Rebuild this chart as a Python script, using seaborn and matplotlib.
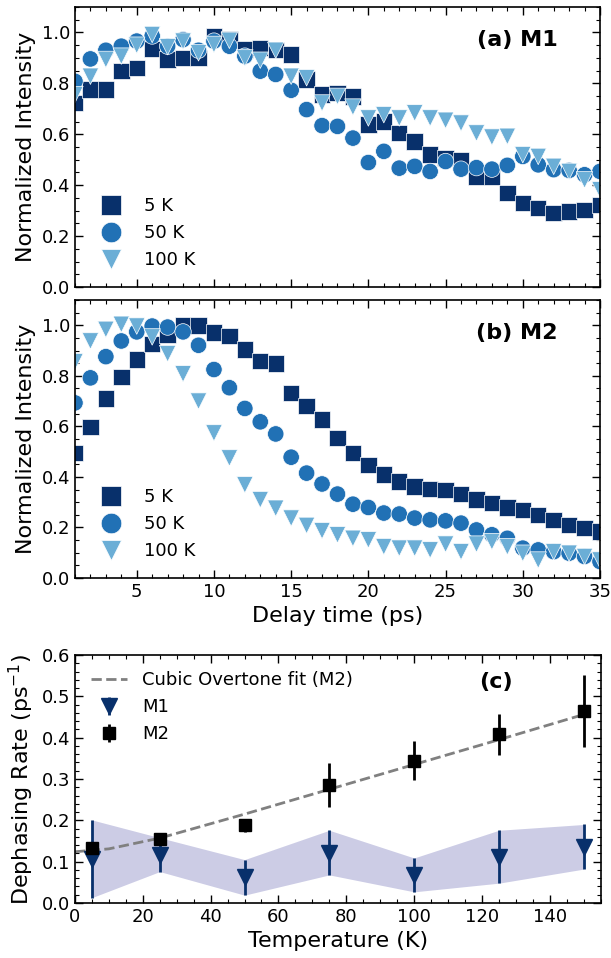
import numpy as np
import pandas as pd
import matplotlib
matplotlib.use("Agg")
import matplotlib.pyplot as plt
from matplotlib.ticker import MultipleLocator
import seaborn as sns

# delay times (ps)
delay = list(range(1, 36))

# (a) M1 normalized intensity
m1_5k = [0.723, 0.776, 0.776, 0.848, 0.861, 0.936, 0.894, 0.900, 0.900, 0.986,
         0.972, 0.933, 0.940, 0.930, 0.913, 0.815, 0.756, 0.762, 0.749, 0.638,
         0.651, 0.605, 0.572, 0.520, 0.507, 0.500, 0.434, 0.434, 0.369, 0.330,
         0.310, 0.290, 0.296, 0.303, 0.323]
m1_50k = [0.808, 0.896, 0.930, 0.946, 0.966, 0.986, 0.946, 0.972, 0.930, 0.966,
          0.946, 0.907, 0.848, 0.835, 0.773, 0.697, 0.634, 0.631, 0.585, 0.489,
          0.533, 0.467, 0.474, 0.454, 0.493, 0.463, 0.469, 0.463, 0.478, 0.513,
          0.480, 0.461, 0.458, 0.441, 0.454]
m1_100k = [0.756, 0.828, 0.894, 0.907, 0.950, 0.992, 0.944, 0.966, 0.920, 0.953,
           0.969, 0.900, 0.891, 0.930, 0.828, 0.822, 0.723, 0.749, 0.707, 0.664,
           0.677, 0.664, 0.684, 0.664, 0.655, 0.644, 0.605, 0.589, 0.592, 0.520,
           0.513, 0.474, 0.454, 0.421, 0.382]

# (b) M2 normalized intensity
m2_5k = [0.495, 0.597, 0.710, 0.795, 0.865, 0.927, 0.962, 1.000, 1.000, 0.971,
         0.958, 0.905, 0.858, 0.849, 0.733, 0.680, 0.627, 0.554, 0.495, 0.448,
         0.409, 0.382, 0.362, 0.353, 0.349, 0.332, 0.310, 0.296, 0.279, 0.270,
         0.250, 0.230, 0.210, 0.197, 0.184]
m2_50k = [0.693, 0.792, 0.876, 0.938, 0.974, 0.997, 0.993, 0.974, 0.921, 0.825,
          0.753, 0.671, 0.618, 0.570, 0.478, 0.415, 0.372, 0.332, 0.292, 0.279,
          0.257, 0.253, 0.237, 0.230, 0.226, 0.217, 0.190, 0.171, 0.157, 0.118,
          0.111, 0.104, 0.098, 0.085, 0.065]
m2_100k = [0.856, 0.938, 0.984, 1.004, 0.997, 0.954, 0.888, 0.808, 0.700, 0.574,
           0.475, 0.369, 0.310, 0.276, 0.237, 0.208, 0.187, 0.171, 0.157, 0.151,
           0.124, 0.118, 0.118, 0.111, 0.134, 0.104, 0.134, 0.144, 0.124, 0.098,
           0.071, 0.104, 0.098, 0.085, 0.071]

temp_labels = ["5 K", "50 K", "100 K"]

# (c) dephasing rates
temperature = [5, 25, 50, 75, 100, 125, 150]
rate_m1 = [0.107, 0.117, 0.062, 0.122, 0.068, 0.112, 0.136]
err_m1 = [0.094, 0.041, 0.043, 0.054, 0.041, 0.064, 0.054]
rate_m2 = [0.134, 0.154, 0.188, 0.285, 0.344, 0.408, 0.465]
err_m2 = [0.008, 0.008, 0.016, 0.053, 0.047, 0.050, 0.087]
fit_temp = [0, 10, 25, 50, 75, 100, 125, 150]
fit_rate = [0.124, 0.131, 0.157, 0.215, 0.275, 0.335, 0.395, 0.456]

palette = {"5 K": "#08306b", "50 K": "#2171b5", "100 K": "#6baed6"}
markers = {"5 K": "s", "50 K": "o", "100 K": "v"}

sns.set_style("ticks", {"xtick.direction": "in", "ytick.direction": "in",
                        "axes.edgecolor": "black", "text.color": "black",
                        "axes.labelcolor": "black", "xtick.color": "black",
                        "ytick.color": "black"})
plt.rcParams["font.family"] = ["DejaVu Sans"]


def long_form(series):
    frames = []
    for lab, vals in zip(temp_labels, series):
        frames.append(pd.DataFrame({"t": delay, "I": vals, "T": lab}))
    return pd.concat(frames, ignore_index=True)


def style_axis(ax):
    ax.tick_params(which="both", top=True, right=True, direction="in", labelsize=13)
    ax.tick_params(which="major", length=6, width=1)
    ax.tick_params(which="minor", length=3, width=0.8)
    for s in ax.spines.values():
        s.set_linewidth(1.2)


fig = plt.figure(figsize=(6.11, 9.58), dpi=100)
ax_a = fig.add_axes([0.1227, 0.7004, 0.8593, 0.2923])
ax_b = fig.add_axes([0.1227, 0.3967, 0.8593, 0.2901])
ax_c = fig.add_axes([0.1227, 0.0574, 0.8603, 0.2589])

for ax, series, tag in [(ax_a, [m1_5k, m1_50k, m1_100k], "(a) M1"),
                        (ax_b, [m2_5k, m2_50k, m2_100k], "(b) M2")]:
    df = long_form(series)
    sns.scatterplot(data=df, x="t", y="I", hue="T", style="T", palette=palette,
                    markers=markers, s=140, linewidth=0.5, edgecolor="white",
                    ax=ax)
    ax.set_xlim(1, 35)
    ax.set_ylim(0, 1.1)
    ax.xaxis.set_major_locator(MultipleLocator(5))
    ax.xaxis.set_minor_locator(MultipleLocator(1))
    ax.yaxis.set_major_locator(MultipleLocator(0.2))
    ax.yaxis.set_minor_locator(MultipleLocator(0.05))
    ax.set_ylabel("Normalized Intensity", fontsize=16)
    ax.set_xlabel("")
    style_axis(ax)
    ax.text(0.92, 0.883, tag, transform=ax.transAxes, ha="right", va="center",
            fontsize=16, fontweight="bold")
    ax.legend(loc="lower left", bbox_to_anchor=(0.0, 0.0), frameon=False,
              fontsize=13, markerscale=1.25, handletextpad=0.8, borderaxespad=0.6)

ax_a.tick_params(labelbottom=False)
ax_b.set_xlabel("Delay time (ps)", fontsize=16)

# (c)
lo = np.array(rate_m1) - np.array(err_m1)
hi = np.array(rate_m1) + np.array(err_m1)
ax_c.fill_between(temperature, lo, hi, color="navy", alpha=0.2, lw=0)
sns.lineplot(x=fit_temp, y=fit_rate, ax=ax_c, color="gray", ls="--", lw=2,
             label="Cubic Overtone fit (M2)")
ax_c.errorbar(temperature, rate_m1, yerr=err_m1, fmt="v", color="#08306b",
              ms=11, elinewidth=2, label="M1")
ax_c.errorbar(temperature, rate_m2, yerr=err_m2, fmt="s", color="black",
              ms=9, elinewidth=2, label="M2")
ax_c.set_xlim(0, 155)
ax_c.set_ylim(0, 0.6)
ax_c.xaxis.set_major_locator(MultipleLocator(20))
ax_c.xaxis.set_minor_locator(MultipleLocator(5))
ax_c.yaxis.set_major_locator(MultipleLocator(0.1))
ax_c.yaxis.set_minor_locator(MultipleLocator(0.02))
ax_c.set_xlabel("Temperature (K)", fontsize=16)
ax_c.set_ylabel("Dephasing Rate (ps$^{-1}$)", fontsize=16)
style_axis(ax_c)
ax_c.text(0.8, 0.892, "(c)", transform=ax_c.transAxes, ha="center", va="center",
          fontsize=16, fontweight="bold")
ax_c.legend(loc="upper left", frameon=False, fontsize=13)

fig.savefig("out.png", dpi=100)
